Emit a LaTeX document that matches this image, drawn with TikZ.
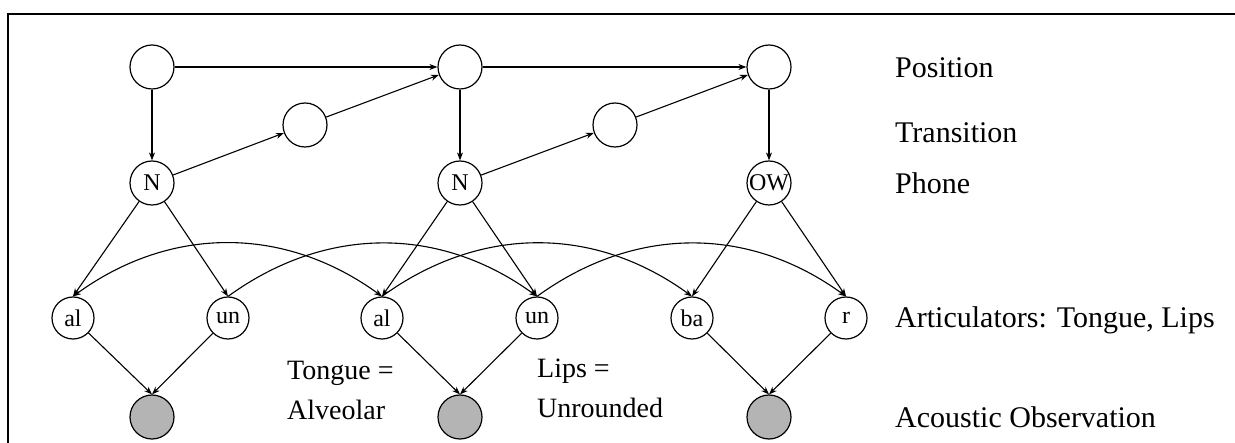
\documentclass[tikz,border=0pt]{standalone}
\usepackage{fontspec}
\setmainfont{Liberation Serif}
\usetikzlibrary{arrows.meta}
\definecolor{obsgray}{RGB}{180,180,180}
\begin{document}
\begin{tikzpicture}[x=1pt,y=-1pt,
  every node/.style={inner sep=0pt},
  var/.style={circle,draw,line width=1.2pt,minimum size=44pt,font=\fontsize{24}{26}\selectfont},
  artic/.style={circle,draw,line width=1.2pt,minimum size=42pt,font=\fontsize{24}{26}\selectfont},
  obs/.style={circle,draw,line width=1.2pt,fill=obsgray,minimum size=44pt},
  lbl/.style={anchor=west,font=\fontsize{30}{36}\selectfont},
  note/.style={anchor=west,align=left,font=\fontsize{28}{40}\selectfont},
  arr/.style={line width=1.1pt,-{Stealth[length=8pt,width=6pt]}},
  darr/.style={line width=1.1pt,{Stealth[length=8pt,width=6pt]}-{Stealth[length=8pt,width=6pt]}}
]
\useasboundingbox (0,0) rectangle (1235,443);
% frame (extends past the picture on the right and bottom)
\draw[line width=2pt] (8,460) -- (8,14) -- (1260,14);

% position row
\node[var] (p1) at (152,67) {};
\node[var] (p2) at (460,67) {};
\node[var] (p3) at (769,67) {};
% transition row
\node[var] (t1) at (305,125) {};
\node[var] (t2) at (615,125) {};
% phone row
\node[var] (n1) at (152,183) {N};
\node[var] (n2) at (460,183) {N};
\node[var] (ow) at (769,183) {OW};
% articulators
\node[artic] (al1) at (73,318) {al};
\node[artic] (un1) at (228,318) {un};
\node[artic] (al2) at (382,318) {al};
\node[artic] (un2) at (537,318) {un};
\node[artic] (ba) at (692,318) {ba};
\node[artic] (r) at (846,318) {r};
% observations
\node[obs] (o1) at (152,417) {};
\node[obs] (o2) at (460,417) {};
\node[obs] (o3) at (769,417) {};

% right labels
\node[lbl] (lpos) at (895,68) {Position};
\node[lbl] (ltr) at (895,133) {Transition};
\node[lbl] (lph) at (895,183) {Phone};
\node[lbl] (lart) at (895,320) {Articulators: Tongue, Lips};
\node[lbl] (lobs) at (895,417) {Acoustic Observation};
% notes
\node[note] (tongue) at (287,390) {Tongue =\\Alveolar};
\node[note] (lips) at (537,388) {Lips =\\Unrounded};

% edges
\draw[arr] (p1) -- (p2);
\draw[arr] (p2) -- (p3);
\draw[arr] (p1) -- (n1);
\draw[arr] (p2) -- (n2);
\draw[arr] (p3) -- (ow);
\draw[arr] (n1) -- (t1);
\draw[arr] (t1) -- (p2);
\draw[arr] (n2) -- (t2);
\draw[arr] (t2) -- (p3);

\draw[arr] (n1) -- (al1.north);
\draw[arr] (n1) -- (un1.north);
\draw[arr] (n2) -- (al2.north);
\draw[arr] (n2) -- (un2.north);
\draw[arr] (ow) -- (ba.north);
\draw[arr] (ow) -- (r.north);

\draw[darr] (al1.north) to[bend left=36] (al2.north);
\draw[arr] (un1.north) to[bend left=36] (un2.north);
\draw[arr] (al2.north) to[bend left=36] (ba.north);
\draw[arr] (un2.north) to[bend left=36] (r.north);

\draw[arr] (al1) -- (o1.north);
\draw[arr] (un1) -- (o1.north);
\draw[arr] (al2) -- (o2.north);
\draw[arr] (un2) -- (o2.north);
\draw[arr] (ba) -- (o3.north);
\draw[arr] (r) -- (o3.north);
\end{tikzpicture}
\end{document}
